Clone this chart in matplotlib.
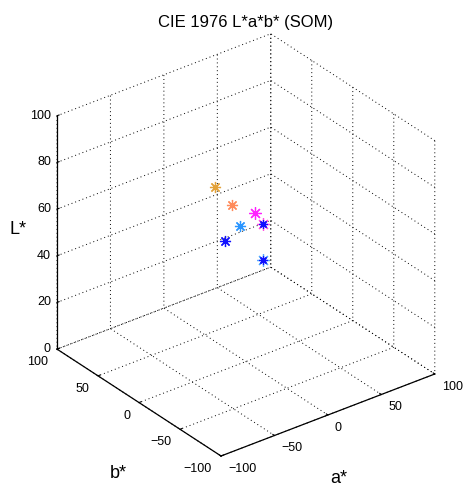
import matplotlib
matplotlib.use('Agg')
import matplotlib.pyplot as plt
from mpl_toolkits.mplot3d import proj3d

# SOM cluster centres in CIE L*a*b*
a_vals = [-4, 2, 13, -12, 12, 12, -21, 7, 7]
b_vals = [32, 20, 6, -8, -5, -5, -2, -12, -12]
L_vals = [68, 62, 60, 62, 58, 58, 56, 45, 45]
colors = ['#E3A23A', '#FF8A5A', '#FF20FF', '#2A95FF', '#FF50E0', '#1010FF',
          '#1010FF', '#50A8FF', '#1010FF']
sizes = [8, 8, 9, 8, 9, 6, 8, 9, 6]

ticks_ab = [-100, -50, 0, 50, 100]
ticks_L = [0, 20, 40, 60, 80, 100]

plt.rcParams['font.family'] = ['Liberation Sans', 'DejaVu Sans']
plt.rcParams['grid.color'] = 'k'
plt.rcParams['grid.linestyle'] = (0, (1, 3))
plt.rcParams['grid.linewidth'] = 0.7

W, H = 466, 489
fig = plt.figure(figsize=(W / 100, H / 100), dpi=100)
ax = fig.add_axes([0.05, 0.05, 0.9, 0.9], projection='3d', proj_type='ortho')
ax.view_init(elev=30, azim=-127.5)
ax.set_box_aspect((1, 1, 1))

for a, b, L, c, m in zip(a_vals, b_vals, L_vals, colors, sizes):
    ax.plot([a], [b], [L], linestyle='none', marker=(8, 2, 0), ms=m, mew=0.9,
            color=c)

ax.set_xlim(-100, 100)
ax.set_ylim(-100, 100)
ax.set_zlim(0, 100)
ax.set_xticks(ticks_ab)
ax.set_yticks(ticks_ab)
ax.set_zticks(ticks_L)
ax.set_xticklabels([])
ax.set_yticklabels([])
ax.set_zticklabels([])

for axis in (ax.xaxis, ax.yaxis, ax.zaxis):
    axis.set_pane_color((1, 1, 1, 0))
    axis.pane.set_edgecolor((1, 1, 1, 0))
    axis.line.set_color('k')
    axis.line.set_linewidth(0.9)
    axis._axinfo['tick']['inward_factor'] = 0.0
    axis._axinfo['tick']['outward_factor'] = 0.12
    axis._axinfo['tick']['linewidth'] = {True: 0.8, False: 0.5}

# fit the projected box onto the reference layout
fig.canvas.draw()


def to_px(x, y, z):
    xs, ys, _ = proj3d.proj_transform(x, y, z, ax.get_proj())
    return ax.transData.transform((xs, ys))


for _ in range(2):
    pl = to_px(-100, 100, 0)
    pr = to_px(100, -100, 0)
    pt = to_px(100, 100, 100)
    pf = to_px(-100, -100, 0)
    s = ((435 - 57) / (pr[0] - pl[0]) + (457 - 35) / (pt[1] - pf[1])) / 2
    bb = ax.get_position()
    x0, y0, w, h = bb.x0 * W, bb.y0 * H, bb.width * W, bb.height * H
    nx0 = 57 - s * (pl[0] - x0)
    ny0 = (H - 457) - s * (pf[1] - y0)
    ax.set_position([nx0 / W, ny0 / H, s * w / W, s * h / H])
    fig.canvas.draw()


def fmt(t):
    return str(t).replace('-', '\u2212')


def put(x, y, z, text, dx, dy, ha):
    px, py = to_px(x, y, z)
    fig.text((px + dx) / W, (py - dy) / H, text, ha=ha, va='center',
             fontsize=9)


for t in ticks_L:
    put(-100, 100, t, fmt(t), -6, -1, 'right')
for t in ticks_ab:
    put(-100, t, 0, fmt(t), -9, 12, 'right')
    put(t, -100, 0, fmt(t), 7, 12, 'left')

fig.text(339 / W, 1 - 479 / H, 'a*', ha='center', va='center', fontsize=13)
fig.text(118 / W, 1 - 474 / H, 'b*', ha='center', va='center', fontsize=13)
fig.text(18 / W, 1 - 230 / H, 'L*', ha='center', va='center', fontsize=13)
fig.text(245.5 / W, 1 - 26.5 / H, 'CIE 1976 L*a*b* (SOM)', ha='center',
         va='baseline', fontsize=12)

fig.savefig('out.png', dpi=100)
